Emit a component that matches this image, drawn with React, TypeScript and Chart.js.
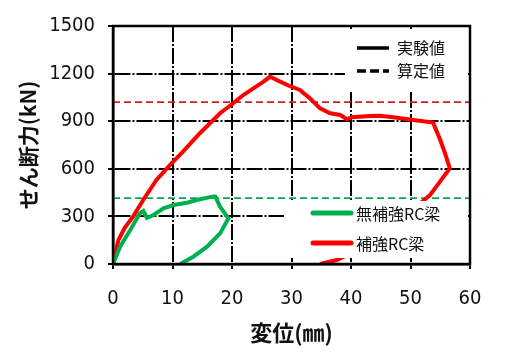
import React, { useEffect, useRef } from 'react';
import { Chart, registerables } from 'chart.js';

Chart.register(...registerables);

// 補強RC梁 (reinforced) experimental curve
const reinforcedX = [0, 0.4, 0.9, 2.0, 3.4, 5.1, 7.3, 9.6, 11.8, 14.6, 16.3, 18.0, 20.2, 21.9, 23.6, 25.3, 26.4, 28.1, 29.5, 31.4, 33.1, 34.8, 36.5, 38.2, 39.3, 40.1, 43.2, 44.9, 47.1, 50.5, 53.8, 55.0, 55.8, 56.6, 53.3, 50.0, 45.0, 40.0, 37.6, 34.8];
const reinforcedY = [0, 70, 150, 230, 300, 405, 530, 625, 710, 824, 887, 950, 1013, 1065, 1107, 1149, 1181, 1149, 1125, 1097, 1044, 981, 950, 939, 912, 925, 933, 935, 925, 908, 891, 781, 698, 603, 435, 330, 180, 70, 25, 0];

// 無補強RC梁 (unreinforced) experimental curve
const plainX = [0, 1.2, 2.9, 4.5, 5.1, 5.7, 6.8, 8.5, 10.2, 12.4, 14.6, 16.9, 17.2, 18.0, 19.4, 18.0, 15.8, 13.5, 11.3];
const plainY = [0, 109, 214, 319, 334, 290, 309, 351, 372, 386, 408, 426, 425, 361, 288, 193, 109, 46, 0];

// 算定値 (calculated values)
const calcReinforced = 1020;
const calcPlain = 415;

const xMin = 0;
const xMax = 60;
const xStep = 10;
const yMin = 0;
const yMax = 1500;
const yStep = 300;

const seriesNames = ['無補強RC梁', '補強RC梁'];
const styleNames = ['実験値', '算定値'];
const xTitle = '変位(㎜)';
const yTitle = 'せん断力(kN)';

const RED = '#ff0000';
const GREEN = '#00b050';
const NUM_FONT = "'Liberation Sans Narrow', 'DejaVu Sans Condensed', 'Noto Sans CJK JP', sans-serif";
const JP_FONT = "'Noto Sans CJK JP', sans-serif";

const pts = (xs: number[], ys: number[]) => xs.map((x, i) => ({ x, y: ys[i] }));

const overlayPlugin = {
  id: 'overlay',
  afterDatasetsDraw(chart: any) {
    const ctx = chart.ctx as CanvasRenderingContext2D;
    const { left, right, top, bottom } = chart.chartArea;
    ctx.save();
    // top-right legend box
    ctx.fillStyle = '#fff';
    ctx.fillRect(345, top + 3, right - 2 - 345, 62);
    ctx.lineCap = 'butt';
    ctx.strokeStyle = '#000';
    ctx.lineWidth = 3.5;
    ctx.setLineDash([]);
    ctx.beginPath();
    ctx.moveTo(357, 48);
    ctx.lineTo(389, 48);
    ctx.stroke();
    ctx.setLineDash([9, 4]);
    ctx.beginPath();
    ctx.moveTo(357, 71);
    ctx.lineTo(389, 71);
    ctx.stroke();
    ctx.setLineDash([]);
    ctx.fillStyle = '#111';
    ctx.font = `16px ${JP_FONT}`;
    ctx.textBaseline = 'middle';
    ctx.textAlign = 'left';
    ctx.fillText(styleNames[0], 397, 48);
    ctx.fillText(styleNames[1], 397, 71);

    // bottom legend box
    ctx.fillStyle = '#fff';
    ctx.fillRect(284, 201, right - 2 - 284, bottom - 6 - 201);
    ctx.lineWidth = 5;
    ctx.lineCap = 'round';
    ctx.strokeStyle = GREEN;
    ctx.beginPath();
    ctx.moveTo(313, 213);
    ctx.lineTo(351, 213);
    ctx.stroke();
    ctx.strokeStyle = RED;
    ctx.beginPath();
    ctx.moveTo(313, 243);
    ctx.lineTo(351, 243);
    ctx.stroke();
    ctx.fillStyle = '#111';
    ctx.fillText(seriesNames[0], 356, 214);
    ctx.fillText(seriesNames[1], 356, 244);

    // frame
    ctx.strokeStyle = '#000';
    ctx.lineWidth = 2.5;
    ctx.lineCap = 'butt';
    ctx.strokeRect(left, top, right - left, bottom - top);
    ctx.restore();
  },
};

const plainTick = (v: any) => String(v);

export default function App() {
  const ref = useRef<HTMLCanvasElement | null>(null);
  useEffect(() => {
    if (!ref.current) return;
    const chart = new Chart(ref.current, {
      type: 'scatter',
      data: {
        datasets: [
          {
            label: seriesNames[0],
            data: pts(plainX, plainY),
            showLine: true,
            borderColor: GREEN,
            borderWidth: 4,
            pointRadius: 0,
            tension: 0,
            order: 1,
          },
          {
            label: seriesNames[1],
            data: pts(reinforcedX, reinforcedY),
            showLine: true,
            borderColor: RED,
            borderWidth: 4,
            pointRadius: 0,
            tension: 0,
            order: 2,
          },
          {
            label: seriesNames[1] + ' ' + styleNames[1],
            data: [
              { x: xMin, y: calcReinforced },
              { x: xMax, y: calcReinforced },
            ],
            showLine: true,
            borderColor: '#d02020',
            borderWidth: 1.8,
            borderDash: [7, 4],
            pointRadius: 0,
            order: 3,
          },
          {
            label: seriesNames[0] + ' ' + styleNames[1],
            data: [
              { x: xMin, y: calcPlain },
              { x: xMax, y: calcPlain },
            ],
            showLine: true,
            borderColor: '#00a850',
            borderWidth: 1.8,
            borderDash: [7, 4],
            pointRadius: 0,
            order: 3,
          },
        ],
      },
      options: {
        animation: false,
        responsive: false,
        maintainAspectRatio: false,
        layout: { padding: { left: 0, top: 26, right: 36, bottom: 0 } },
        plugins: { legend: { display: false }, tooltip: { enabled: false } },
        scales: {
          x: {
            type: 'linear',
            min: xMin,
            max: xMax,
            afterFit: (s: any) => {
              s.height = 95;
            },
            ticks: {
              stepSize: xStep,
              color: '#111',
              padding: 18,
              callback: plainTick,
              font: { family: NUM_FONT, size: 20 },
            },
            grid: {
              color: '#000',
              lineWidth: 2,
              tickLength: 5,
              tickColor: '#000',
              tickWidth: 2,
              tickBorderDash: [],
            },
            border: { display: true, color: '#000', width: 2.5, dash: [16, 2, 2, 2] },
            title: {
              display: true,
              text: xTitle,
              color: '#111',
              font: { family: JP_FONT, size: 22, weight: 'bold' },
              padding: { top: 0, bottom: 13 },
            },
          },
          y: {
            type: 'linear',
            min: yMin,
            max: yMax,
            afterFit: (s: any) => {
              s.width = 113;
            },
            ticks: {
              stepSize: yStep,
              color: '#111',
              padding: 13,
              callback: plainTick,
              font: { family: NUM_FONT, size: 20 },
            },
            grid: {
              color: '#000',
              lineWidth: 2,
              tickLength: 5,
              tickColor: '#000',
              tickWidth: 2,
              tickBorderDash: [],
            },
            border: { display: true, color: '#000', width: 2.5, dash: [16, 2, 2, 2] },
            title: {
              display: true,
              text: yTitle,
              color: '#111',
              font: { family: JP_FONT, size: 21, weight: 'bold' },
              padding: { top: 15, bottom: 0 },
            },
          },
        },
      },
      plugins: [overlayPlugin],
    } as any);
    return () => chart.destroy();
  }, []);
  return (
    <div style={{ position: 'fixed', left: 0, top: 0, width: 506, height: 359, background: '#fff' }}>
      <canvas ref={ref} width={506} height={359} />
    </div>
  );
}
